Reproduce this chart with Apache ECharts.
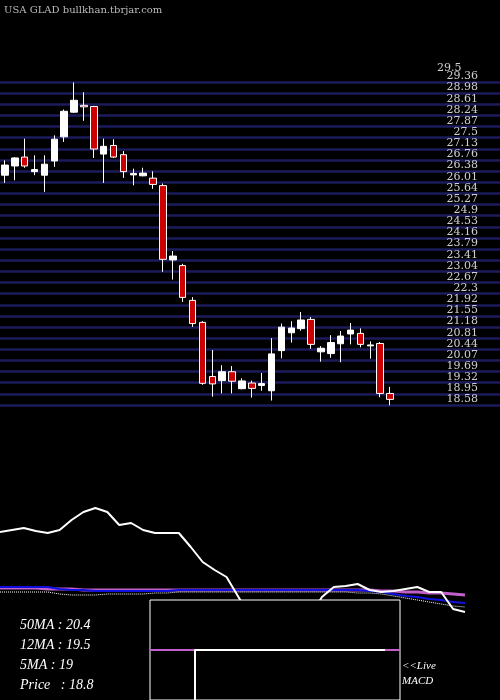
<!DOCTYPE html>
<html><head><meta charset="utf-8">
<script src="https://cdn.jsdelivr.net/npm/echarts@6/dist/echarts.min.js"></script>
<style>html,body{margin:0;padding:0;background:#000}#c{width:500px;height:700px}</style>
</head><body><div id="c"></div>
<script>
// candles: open, close, low, high
var candles = [
  [25.99,26.33,25.73,26.49],[26.30,26.57,25.82,26.60],[26.60,26.30,26.24,27.22],[26.11,26.18,25.99,26.66],
  [25.99,26.36,25.43,26.66],[26.47,27.20,26.27,27.33],[27.28,28.14,27.11,28.20],[28.11,28.51,28.08,29.11],
  [28.34,28.29,27.82,28.78],[28.30,26.87,26.57,28.32],[26.70,26.96,25.73,27.22],[26.99,26.60,26.57,27.20],
  [26.68,26.11,25.90,26.80],[26.00,26.05,25.65,26.21],[25.97,26.06,25.95,26.24],[25.89,25.68,25.53,26.12],
  [25.64,23.16,22.74,25.71],[23.14,23.27,22.48,23.44],[22.95,21.88,21.73,23.01],[21.78,21.00,20.89,21.89],
  [21.04,18.99,18.94,21.08],[19.22,18.97,18.54,20.11],[19.08,19.38,18.65,19.60],[19.38,19.06,18.65,19.57],
  [18.81,19.07,18.79,19.16],[19.00,18.82,18.51,19.08],[18.92,18.98,18.74,19.34],[18.74,19.98,18.41,20.51],
  [20.09,20.88,19.83,21.00],[20.69,20.85,20.36,21.08],[20.83,21.12,20.76,21.39],[21.14,20.30,20.15,21.22],
  [20.05,20.17,19.72,20.24],[19.99,20.36,19.85,20.61],[20.32,20.58,19.70,20.75],[20.65,20.78,20.30,21.02],
  [20.67,20.30,20.20,20.84],[20.25,20.28,19.82,20.40],[20.33,18.65,18.52,20.38],[18.65,18.45,18.25,18.87]
];
var priceLabels = ['29.36','28.98','28.61','28.24','27.87','27.5','27.13','26.76','26.38','26.01',
  '25.64','25.27','24.9','24.53','24.16','23.79','23.41','23.04','22.67','22.3',
  '21.92','21.55','21.18','20.81','20.44','20.07','19.69','19.32','18.95','18.58'];
var oscWhite = [168,170,172,169,167,170,180,188,192,188,175,177,170,167,167,167,153,138,130,123,
  103,83,70,63,63,70,83,103,113,114,116,110,108,109,111,113,108,108,91,88];
var maPurple = [112,112,112,112,111,111,111,110,110,110,110,110,110,110,110,110,110,110,110,110,
  110,110,110,110,110,110,110,110,110,110,110,110,109,109,108,108,107,107,106,105];
var maBlue = [113,113,113,113,113,111,110,110,109,109,109,109,109,109,109,110,110,110,110,110,
  110,110,110,110,110,110,110,110,110,110,110,109,108,106,104,103,101,100,98,97];
var maDot = [108,108,108,108,108,106,105,105,105,106,106,106,106,107,107,108,108,108,108,108,
  108,108,108,108,108,108,108,108,108,108,107,107,106,104,102,100,98,96,94,93];
var macdZero = [[0,0],[250,0]];
var macdLine = [[45,-60],[45,0],[235,0]];
var cats = candles.map(function(d,i){return i;});

var chart = echarts.init(document.getElementById('c'));
chart.setOption({
  backgroundColor:'#000',
  animation:false,
  grid:[
    {left:-2,top:75,width:397,height:322},
    {left:0,right:0,top:82,height:323},
    {left:0,width:465,top:490,height:210},
    {left:150,width:250,top:600,height:100,show:true,backgroundColor:'#000',borderColor:'#fff',borderWidth:1,z:10}
  ],
  xAxis:[
    {type:'category',gridIndex:0,data:cats,show:false},
    {type:'value',gridIndex:1,show:false},
    {type:'category',gridIndex:2,data:cats,boundaryGap:false,show:false},
    {type:'value',gridIndex:3,min:0,max:250,show:false}
  ],
  yAxis:[
    {type:'value',gridIndex:0,min:18.53,max:29.36,show:false},
    {type:'value',gridIndex:1,min:0,max:29,interval:1,inverse:true,position:'right',
      axisLine:{show:false},axisTick:{show:false},
      splitLine:{lineStyle:{color:'#1c1c5c',width:2.5}},
      axisLabel:{inside:true,margin:22,color:'#cfcfcf',fontFamily:'DejaVu Serif',fontSize:11,verticalAlign:'bottom',
        formatter:function(v){return priceLabels[v]||'';}}},
    {type:'value',gridIndex:2,min:0,max:210,show:false},
    {type:'value',gridIndex:3,min:-50,max:50,show:false}
  ],
  graphic:[
    {type:'text',left:4,top:5,style:{text:'USA GLAD bullkhan.tbrjar.com',fill:'#bbb',font:'10px DejaVu Serif'}},
    {type:'text',left:437,top:63,style:{text:'29.5',fill:'#cfcfcf',font:'11px DejaVu Serif'}},
    {type:'text',left:20,top:618,style:{text:'50MA : 20.4',fill:'#fff',font:'italic 14px Liberation Serif'}},
    {type:'text',left:20,top:638,style:{text:'12MA : 19.5',fill:'#fff',font:'italic 14px Liberation Serif'}},
    {type:'text',left:20,top:658,style:{text:'5MA : 19',fill:'#fff',font:'italic 14px Liberation Serif'}},
    {type:'text',left:20,top:678,style:{text:'Price   : 18.8',fill:'#fff',font:'italic 14px Liberation Serif'}},
    {type:'text',left:402,top:659,style:{text:'<<Live\nMACD',fill:'#fff',font:'italic 11px Liberation Serif',lineHeight:15}}
  ],
  series:[
    {type:'candlestick',xAxisIndex:0,yAxisIndex:0,data:candles,barWidth:7,
      itemStyle:{color:'#fff',color0:'#cc0000',borderColor:'#fff',borderColor0:'#fff',borderWidth:1}},
    {type:'line',xAxisIndex:2,yAxisIndex:2,data:maPurple,symbol:'none',lineStyle:{color:'#c060c8',width:3}},
    {type:'line',xAxisIndex:2,yAxisIndex:2,data:maBlue,symbol:'none',lineStyle:{color:'#1010e0',width:2}},
    {type:'line',xAxisIndex:2,yAxisIndex:2,data:maDot,symbol:'none',lineStyle:{color:'#fff',width:1,type:'dotted'}},
    {type:'line',xAxisIndex:2,yAxisIndex:2,data:oscWhite,symbol:'none',lineStyle:{color:'#fff',width:2}},
    {type:'line',xAxisIndex:3,yAxisIndex:3,data:macdZero,symbol:'none',z:11,lineStyle:{color:'#c060c8',width:2}},
    {type:'line',xAxisIndex:3,yAxisIndex:3,data:macdLine,symbol:'none',z:12,lineStyle:{color:'#fff',width:2}}
  ]
});
</script></body></html>
